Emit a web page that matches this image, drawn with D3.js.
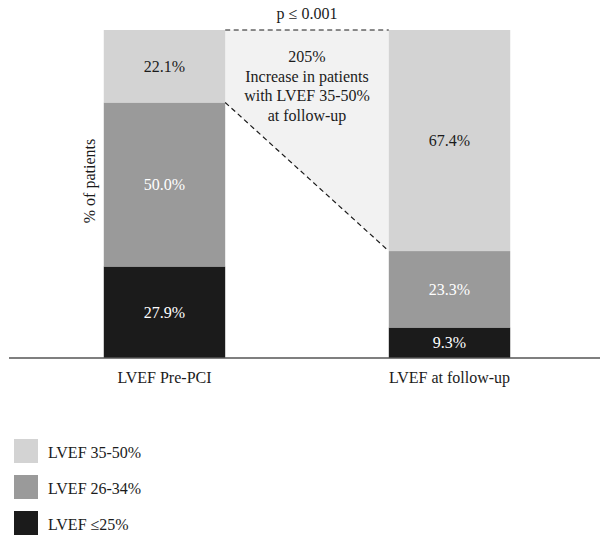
<!DOCTYPE html>
<html>
<head>
<meta charset="utf-8">
<script src="https://cdn.jsdelivr.net/npm/d3@7"></script>
<style>
html,body{margin:0;padding:0;background:#fff;}
text{font-family:"Liberation Serif","DejaVu Serif",serif;}
</style>
</head>
<body>
<svg id="chart" width="610" height="546"></svg>
<script>
const categories = ["LVEF Pre-PCI", "LVEF at follow-up"];
const seriesNames = ["LVEF ≤25%", "LVEF 26-34%", "LVEF 35-50%"];
const low = [27.9, 9.3];
const mid = [50.0, 23.3];
const high = [22.1, 67.4];
const pText = "p ≤ 0.001";
const noteLines = ["205%", "Increase in patients", "with LVEF 35-50%", "at follow-up"];
const yLabel = "% of patients";

const colors = {"LVEF ≤25%": "#1b1b1b", "LVEF 26-34%": "#9a9a9a", "LVEF 35-50%": "#d3d3d3"};
const textColors = {"LVEF ≤25%": "#ffffff", "LVEF 26-34%": "#ffffff", "LVEF 35-50%": "#1b1b1b"};
const FS = 16;

const rows = categories.map((c, i) => ({cat: c, "LVEF ≤25%": low[i], "LVEF 26-34%": mid[i], "LVEF 35-50%": high[i]}));

const svg = d3.select("#chart");
const x = d3.scaleBand().domain(categories).range([14, 600]).paddingInner(0.574).paddingOuter(0.315);
const y = d3.scaleLinear().domain([0, 100]).range([358, 30]);

const stack = d3.stack().keys(seriesNames)(rows);

// annotation polygon between bars
const xL = x(categories[0]) + x.bandwidth();
const xR = x(categories[1]);
const leftTopBoundary = 100 - high[0];
const rightTopBoundary = 100 - high[1];
svg.append("polygon")
  .attr("points", [[xL, y(100)], [xR, y(100)], [xR, y(rightTopBoundary)], [xL, y(leftTopBoundary)]].map(p => p.join(",")).join(" "))
  .attr("fill", "#f2f2f2");

const g = svg.append("g");
stack.forEach(layer => {
  g.selectAll(null).data(layer).enter().append("rect")
    .attr("x", d => x(d.data.cat))
    .attr("width", x.bandwidth())
    .attr("y", d => y(d[1]))
    .attr("height", d => y(d[0]) - y(d[1]))
    .attr("fill", colors[layer.key]);
  g.selectAll(null).data(layer).enter().append("text")
    .attr("x", d => x(d.data.cat) + x.bandwidth() / 2)
    .attr("y", d => (y(d[0]) + y(d[1])) / 2)
    .attr("dy", "0.35em")
    .attr("text-anchor", "middle")
    .attr("font-size", FS)
    .attr("fill", textColors[layer.key])
    .text(d => (d[1] - d[0]).toFixed(1) + "%");
});

// dashed lines
svg.append("line").attr("x1", xL).attr("x2", xR).attr("y1", y(100)).attr("y2", y(100))
  .attr("stroke", "#1b1b1b").attr("stroke-width", 1.2).attr("stroke-dasharray", "5,3.5");
svg.append("line").attr("x1", xL).attr("x2", xR).attr("y1", y(leftTopBoundary)).attr("y2", y(rightTopBoundary))
  .attr("stroke", "#1b1b1b").attr("stroke-width", 1.2).attr("stroke-dasharray", "5,3.5");

const cx = (xL + xR) / 2;
svg.append("text").attr("x", cx).attr("y", 19).attr("text-anchor", "middle")
  .attr("font-size", FS).attr("fill", "#1b1b1b").text(pText);
svg.append("g").selectAll("text").data(noteLines).enter().append("text")
  .attr("x", cx).attr("y", (d, i) => 62 + i * 19.5)
  .attr("text-anchor", "middle").attr("font-size", FS).attr("fill", "#1b1b1b").text(d => d);

// baseline axis
const axis = d3.axisBottom(x).tickSize(0).tickPadding(13.6);
const ag = svg.append("g").attr("transform", `translate(0,${y(0)})`).call(axis);
ag.select(".domain").attr("d", "M9,0H600").attr("stroke", "#555").attr("stroke-width", 1.5);
ag.selectAll(".tick text").attr("font-size", FS).attr("fill", "#1b1b1b")
  .attr("font-family", "Liberation Serif, DejaVu Serif, serif");

svg.append("text").attr("transform", `translate(95,181) rotate(-90)`)
  .attr("text-anchor", "middle").attr("font-size", FS).attr("fill", "#1b1b1b").text(yLabel);

// legend
const legendOrder = ["LVEF 35-50%", "LVEF 26-34%", "LVEF ≤25%"];
const lg = svg.append("g").selectAll("g").data(legendOrder).enter().append("g")
  .attr("transform", (d, i) => `translate(14,${439 + i * 36})`);
lg.append("rect").attr("width", 24).attr("height", 24).attr("fill", d => colors[d]);
lg.append("text").attr("x", 34).attr("y", 19).attr("font-size", FS)
  .attr("fill", "#1b1b1b").text(d => d);
</script>
</body>
</html>
